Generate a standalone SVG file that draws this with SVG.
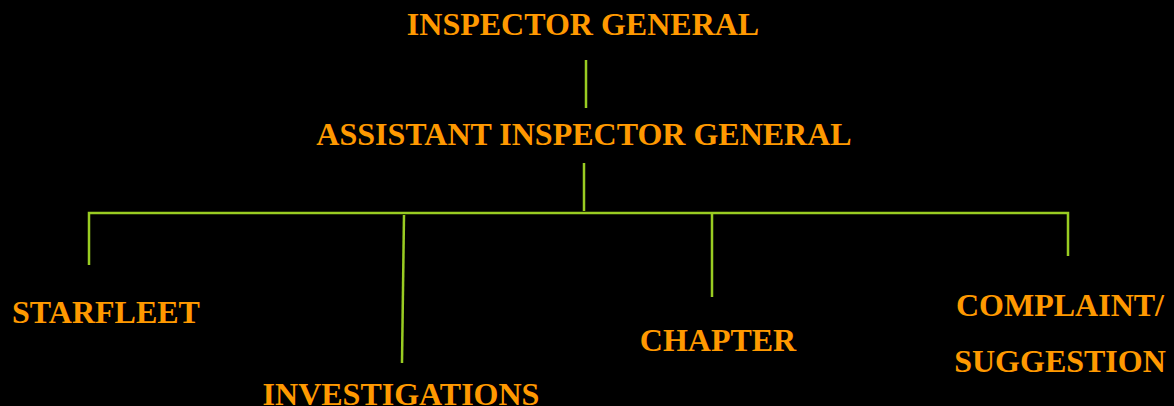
<svg xmlns="http://www.w3.org/2000/svg" width="1174" height="406" viewBox="0 0 1174 406">
<style>
.t{font-family:"Liberation Serif","Times New Roman",serif;font-weight:bold;font-size:32px;fill:#FF9900;text-anchor:middle}
.c{stroke:#99CC22;stroke-width:2.5;fill:none}
</style>
<rect width="1174" height="406" fill="#000"/>
<g id="connectors">
<line class="c" x1="586" y1="60" x2="586" y2="108"/>
<line class="c" x1="584" y1="163" x2="584" y2="211"/>
<polyline class="c" points="89,265 89,213 1068,213 1068,256"/>
<line class="c" x1="404" y1="215" x2="402" y2="363"/>
<line class="c" x1="712" y1="213" x2="712" y2="297"/>
</g>
<g id="inspector-general"><text class="t" x="583" y="35">INSPECTOR GENERAL</text></g>
<g id="assistant-inspector-general"><text class="t" x="584" y="145">ASSISTANT INSPECTOR GENERAL</text></g>
<g id="starfleet"><text class="t" x="106" y="323">STARFLEET</text></g>
<g id="investigations"><text class="t" x="401" y="405">INVESTIGATIONS</text></g>
<g id="chapter"><text class="t" x="718" y="351">CHAPTER</text></g>
<g id="complaint-suggestion"><text class="t" x="1060" y="316">COMPLAINT/</text><text class="t" x="1060" y="372">SUGGESTION</text></g>
</svg>
